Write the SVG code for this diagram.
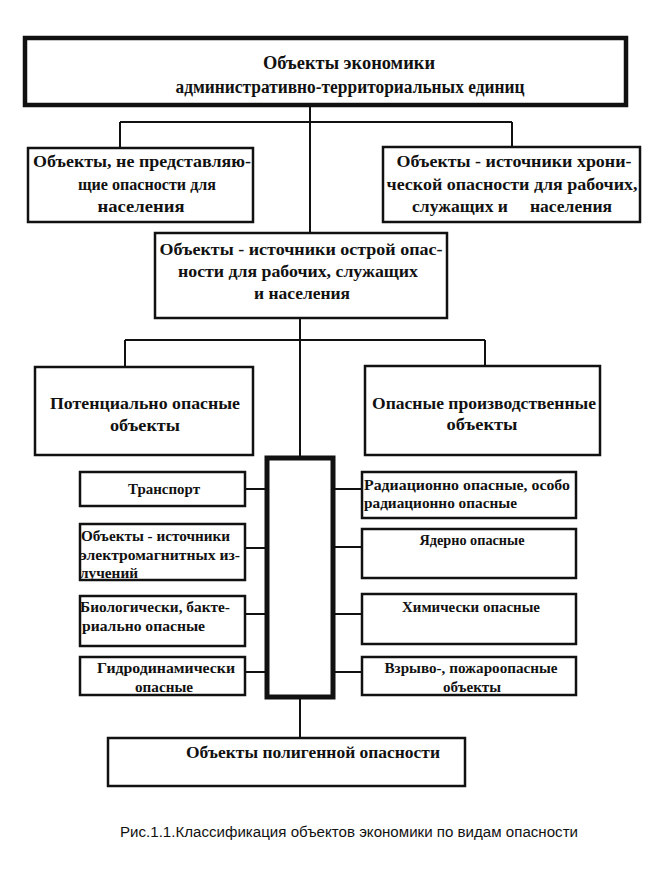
<svg xmlns="http://www.w3.org/2000/svg" width="649" height="886" viewBox="0 0 649 886">
<style>
.b{fill:#fff;stroke:#111;stroke-width:2.5}
.bt{fill:#fff;stroke:#111;stroke-width:4.5}
.bk{fill:#fff;stroke:#111;stroke-width:5}
.c{fill:none;stroke:#111;stroke-width:2}
text{font-family:"Liberation Serif","Times New Roman",serif;font-weight:bold;fill:#111}
.m{text-anchor:middle}
.t16{font-size:18px}
.t15{font-size:17px}
.t13{font-size:14.5px}
.cap{font-family:"Liberation Sans",Arial,sans-serif;font-weight:normal;font-size:14px}
</style>
<g id="connectors">
<path class="c" d="M310 105V235M120 122H512M120 122V148M512 122V147"/>
<path class="c" d="M300 318V458M125 340H485M125 340V367M485 340V366"/>
<path class="c" d="M245 489H267M245 548H267M245 614H267M245 672H267"/>
<path class="c" d="M333 489H362M333 547H362M333 614H362M333 672H362"/>
<path class="c" d="M300 697V738"/>
</g>
<g id="n-top">
<rect class="bt" x="25" y="38" width="601" height="67"/>
<text class="t16 m" x="349" y="69" textLength="172" lengthAdjust="spacingAndGlyphs">Объекты экономики</text>
<text class="t16 m" x="350" y="93" textLength="349" lengthAdjust="spacingAndGlyphs">административно-территориальных единиц</text>
</g>
<g id="n-safe">
<rect class="b" x="28" y="148" width="225" height="74"/>
<text class="t15 m" x="142" y="167" textLength="218" lengthAdjust="spacingAndGlyphs">Объекты, не представляю-</text>
<text class="t15 m" x="147" y="190" textLength="138" lengthAdjust="spacingAndGlyphs">щие опасности для</text>
<text class="t15 m" x="141" y="212" textLength="87" lengthAdjust="spacingAndGlyphs">населения</text>
</g>
<g id="n-chronic">
<rect class="b" x="383" y="147" width="257" height="75"/>
<text class="t15 m" x="514" y="167" textLength="235" lengthAdjust="spacingAndGlyphs">Объекты - источники хрони-</text>
<text class="t15 m" x="512" y="190" textLength="251" lengthAdjust="spacingAndGlyphs">ческой опасности для рабочих,</text>
<text class="t15 m" x="512" y="212" textLength="200" lengthAdjust="spacingAndGlyphs" style="white-space:pre">служащих и     населения</text>
</g>
<g id="n-acute">
<rect class="b" x="155" y="233" width="292" height="85"/>
<text class="t15 m" x="301" y="255" textLength="283" lengthAdjust="spacingAndGlyphs">Объекты - источники острой опас-</text>
<text class="t15 m" x="298" y="277" textLength="240" lengthAdjust="spacingAndGlyphs">ности для рабочих, служащих</text>
<text class="t15 m" x="302" y="299" textLength="96" lengthAdjust="spacingAndGlyphs">и населения</text>
</g>
<g id="n-potential">
<rect class="b" x="35" y="367" width="218" height="88"/>
<text class="t15 m" x="145" y="409" textLength="190" lengthAdjust="spacingAndGlyphs">Потенциально опасные</text>
<text class="t15 m" x="145" y="431" textLength="70" lengthAdjust="spacingAndGlyphs">объекты</text>
</g>
<g id="n-industrial">
<rect class="b" x="365" y="366" width="235" height="89"/>
<text class="t15 m" x="484" y="409" textLength="224" lengthAdjust="spacingAndGlyphs">Опасные производственные</text>
<text class="t15 m" x="482" y="430" textLength="71" lengthAdjust="spacingAndGlyphs">объекты</text>
</g>
<g id="n-hub">
<rect class="bk" x="267" y="458" width="66" height="239"/>
</g>
<g id="n-transport">
<rect class="b" x="80" y="472" width="165" height="34"/>
<text class="t13 m" x="164" y="494" textLength="72" lengthAdjust="spacingAndGlyphs">Транспорт</text>
</g>
<g id="n-em">
<rect class="b" x="80" y="524" width="165" height="56"/>
<text class="t13" x="81" y="541" textLength="149" lengthAdjust="spacingAndGlyphs">Объекты - источники</text>
<text class="t13" x="80" y="560" textLength="160" lengthAdjust="spacingAndGlyphs">электромагнитных из-</text>
<text class="t13" x="80" y="578" textLength="58" lengthAdjust="spacingAndGlyphs">лучений</text>
</g>
<g id="n-bio">
<rect class="b" x="80" y="596" width="165" height="50"/>
<text class="t13" x="80" y="612" textLength="150" lengthAdjust="spacingAndGlyphs">Биологически, бакте-</text>
<text class="t13" x="82" y="631" textLength="123" lengthAdjust="spacingAndGlyphs">риально опасные</text>
</g>
<g id="n-hydro">
<rect class="b" x="80" y="657" width="165" height="38"/>
<text class="t13 m" x="166" y="673" textLength="138" lengthAdjust="spacingAndGlyphs">Гидродинамически</text>
<text class="t13 m" x="164" y="692" textLength="58" lengthAdjust="spacingAndGlyphs">опасные</text>
</g>
<g id="n-rad">
<rect class="b" x="362" y="472" width="214" height="46"/>
<text class="t13" x="364" y="490" textLength="206" lengthAdjust="spacingAndGlyphs">Радиационно опасные, особо</text>
<text class="t13" x="364" y="508" textLength="153" lengthAdjust="spacingAndGlyphs">радиационно опасные</text>
</g>
<g id="n-nuclear">
<rect class="b" x="362" y="529" width="214" height="49"/>
<text class="t13 m" x="472" y="545" textLength="105" lengthAdjust="spacingAndGlyphs">Ядерно опасные</text>
</g>
<g id="n-chem">
<rect class="b" x="362" y="594" width="214" height="50"/>
<text class="t13 m" x="471" y="612" textLength="138" lengthAdjust="spacingAndGlyphs">Химически опасные</text>
</g>
<g id="n-fire">
<rect class="b" x="362" y="657" width="214" height="38"/>
<text class="t13 m" x="471" y="673" textLength="173" lengthAdjust="spacingAndGlyphs">Взрыво-, пожароопасные</text>
<text class="t13 m" x="472" y="692" textLength="58" lengthAdjust="spacingAndGlyphs">объекты</text>
</g>
<g id="n-poly">
<rect class="b" x="108" y="738" width="357" height="48"/>
<text class="t15 m" x="313" y="758" textLength="254" lengthAdjust="spacingAndGlyphs">Объекты полигенной опасности</text>
</g>
<text class="cap m" x="349" y="837" textLength="458" lengthAdjust="spacingAndGlyphs">Рис.1.1.Классификация объектов экономики по видам опасности</text>
</svg>
